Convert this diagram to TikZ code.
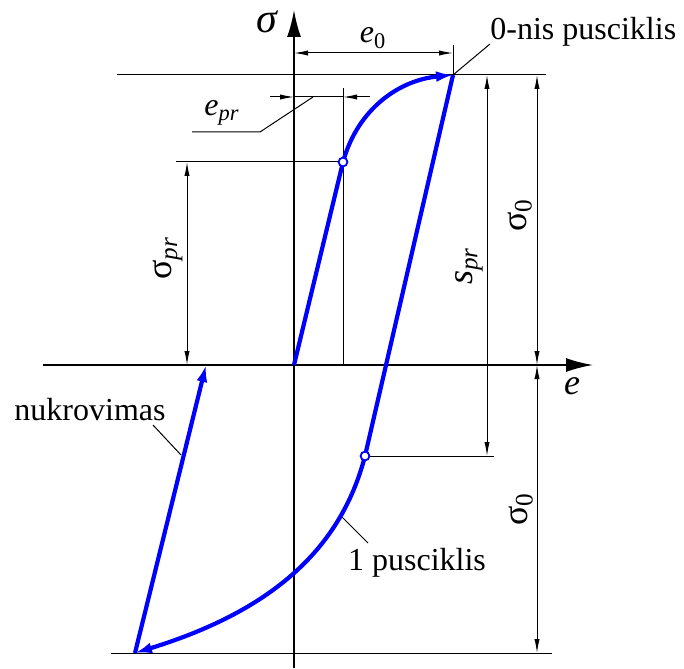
\documentclass[tikz,border=0pt]{standalone}
\usepackage{fontspec}
\setmainfont{Liberation Serif}
\usetikzlibrary{arrows.meta}

\begin{document}
\begin{tikzpicture}[
  x=0.5pt, y=-0.5pt,
  every node/.style={font=\fontsize{16}{19}\selectfont, inner sep=0pt},
  axis/.style={line width=1pt, -{Latex[length=13.5pt,width=7pt]}},
  thinline/.style={line width=0.5pt},
  dimarrow/.style={line width=0.5pt, -{Latex[length=7pt,width=2.6pt]}},
  dim/.style={line width=0.5pt, {Latex[length=7pt,width=2.6pt]}-{Latex[length=7pt,width=2.6pt]}},
  curve/.style={blue, line width=2.1pt},
  curvearrow/.style={curve, -{Latex[length=8.5pt,width=5.5pt]}},
  ptcircle/.style={draw=blue, line width=0.9pt, fill=white, circle, minimum size=4.4pt}
]
  \useasboundingbox (0,0) rectangle (684,668);

  % Points of the loop
  \coordinate (O) at (294,365);
  \coordinate (A) at (453,75);
  \coordinate (P) at (343,162);
  \coordinate (Q) at (365,456);
  \coordinate (B) at (135,653);
  \coordinate (C) at (206,365);

  % Axes
  \coordinate (ybot) at (294,668);
  \coordinate (ytop) at (294,10);
  \coordinate (xleft) at (43,365);
  \coordinate (xright) at (593,365);
  \draw[axis] (ybot) -- (ytop);
  \draw[axis] (xleft) -- (xright);
  \node[font=\fontsize{21}{24}\selectfont] (sig) at (268,22) {\textit{σ}};
  \node[font=\fontsize{18}{21}\selectfont] (e) at (572,386) {\textit{e}};

  % Reference lines
  \draw[thinline] (117,75) -- (546,75);
  \draw[thinline] (111,653) -- (552,653);

  % e_0
  \draw[thinline] (A) -- (453,45);
  \draw[dim] (294,53) -- (453,53);
  \node (e0) at (373,38) {\textit{e}\textsubscript{0}};

  % e_pr
  \draw[thinline] (343,365) -- (343,88);
  \draw[thinline] (294,97) -- (343,97);
  \draw[dimarrow] (270,97) -- (294,97);
  \draw[dimarrow] (370,97) -- (343,97);
  \draw[thinline] (313,97) -- (260,132) -- (192,132);
  \node (epr) at (222,113) {\textit{e\textsubscript{pr}}};

  % sigma_pr
  \draw[thinline] (176,162) -- (P);
  \draw[dim] (187,162) -- (187,365);
  \node[rotate=90, font=\fontsize{18}{21}\selectfont] (sigpr) at (168,258) {σ\textsubscript{\textit{pr}}};

  % s_pr
  \draw[thinline] (Q) -- (494,456);
  \draw[dim] (487,75) -- (487,456);
  \node[rotate=90, font=\fontsize{18}{21}\selectfont] (spr) at (469,266) {\textit{s\textsubscript{pr}}};

  % sigma_0
  \draw[dim] (537,75) -- (537,365);
  \draw[dim] (537,365) -- (537,653);
  \node[rotate=90, font=\fontsize{18}{21}\selectfont] (sig0a) at (520,215) {σ\textsubscript{0}};
  \node[rotate=90, font=\fontsize{18}{21}\selectfont] (sig0b) at (521,509) {σ\textsubscript{0}};

  % Loop
  \draw[curve] (O) -- (P);
  \draw[curvearrow] (P) .. controls (358,108) and (400,80) .. (A);
  \draw[curve] (A) -- (Q);
  \draw[curvearrow] (Q) .. controls (340,552) and (268,612) .. (B);
  \draw[curvearrow] (B) -- (C);
  \node[ptcircle] (p1) at (P) {};
  \node[ptcircle] (p2) at (Q) {};

  % Leaders
  \draw[thinline] (A) -- (490,44);
  \node[anchor=west] (lab0) at (490,32) {0-nis pusciklis};
  \draw[thinline] (181,455) -- (153,425);
  \node (lab1) at (90,410) {nukrovimas};
  \draw[thinline] (342,517) -- (368,543);
  \node (lab2) at (417,563) {1 pusciklis};
\end{tikzpicture}
\end{document}
